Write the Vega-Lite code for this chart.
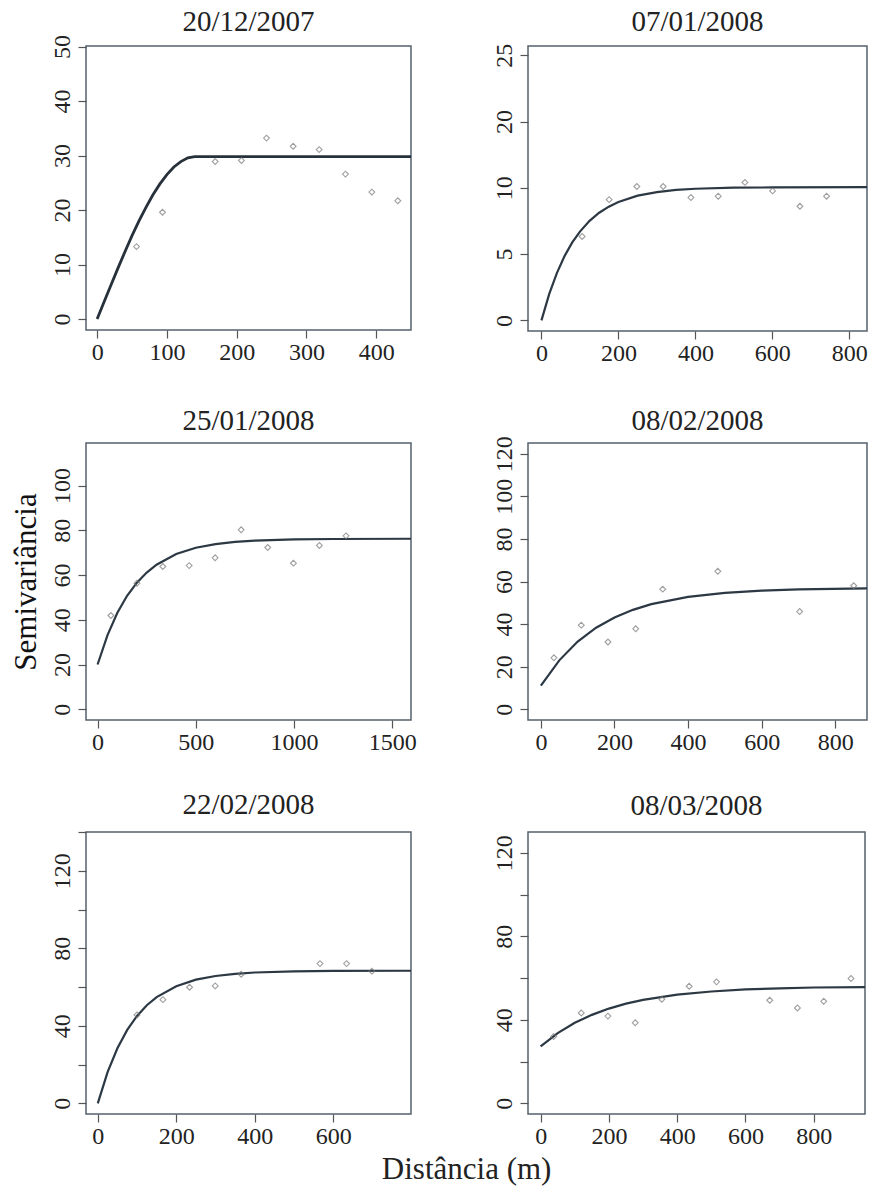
{
  "$schema": "https://vega.github.io/schema/vega-lite/v6.json",
  "background": "white",
  "padding": {"left": 9, "top": 7, "right": 4, "bottom": 2},
  "datasets": {
    "p1_pts": [{"d":56.4,"g":13.3},{"d":93.7,"g":19.6},{"d":169.2,"g":28.9},{"d":206.9,"g":29.1},{"d":242.8,"g":33.2},{"d":281.0,"g":31.7},{"d":318.3,"g":31.1},{"d":356.0,"g":26.6},{"d":393.8,"g":23.3},{"d":431.1,"g":21.7}],
    "p1_fit": [{"d":0,"g":0},{"d":10,"g":3.2},{"d":20,"g":6.3},{"d":30,"g":9.4},{"d":40,"g":12.4},{"d":50,"g":15.3},{"d":60,"g":18.0},{"d":70,"g":20.5},{"d":80,"g":22.8},{"d":90,"g":24.8},{"d":100,"g":26.5},{"d":110,"g":27.9},{"d":120,"g":28.9},{"d":130,"g":29.6},{"d":140,"g":29.8},{"d":450,"g":29.8}],
    "p2_pts": [{"d":105.7,"g":6.33},{"d":175.9,"g":9.11},{"d":247.9,"g":10.1},{"d":316.3,"g":10.1},{"d":388.3,"g":9.27},{"d":459.3,"g":9.37},{"d":528.7,"g":10.41},{"d":600.6,"g":9.77},{"d":671.7,"g":8.61},{"d":741.0,"g":9.37}],
    "p2_fit": [{"d":0,"g":0},{"d":20,"g":1.98},{"d":40,"g":3.57},{"d":60,"g":4.85},{"d":80,"g":5.88},{"d":100,"g":6.70},{"d":125,"g":7.51},{"d":150,"g":8.12},{"d":175,"g":8.58},{"d":200,"g":8.93},{"d":250,"g":9.41},{"d":300,"g":9.68},{"d":350,"g":9.84},{"d":400,"g":9.93},{"d":500,"g":10.01},{"d":600,"g":10.03},{"d":846,"g":10.05}],
    "p3_pts": [{"d":67.8,"g":41.9},{"d":200,"g":56.3},{"d":332,"g":63.8},{"d":466,"g":64.2},{"d":598,"g":67.7},{"d":730.5,"g":80.2},{"d":866,"g":72.3},{"d":996.6,"g":65.3},{"d":1128.8,"g":73.2},{"d":1264.4,"g":77.5}],
    "p3_fit": [{"d":0,"g":20},{"d":50,"g":33.0},{"d":100,"g":43.0},{"d":150,"g":50.7},{"d":200,"g":56.6},{"d":250,"g":61.1},{"d":300,"g":64.6},{"d":400,"g":69.4},{"d":500,"g":72.2},{"d":600,"g":73.8},{"d":700,"g":74.8},{"d":800,"g":75.4},{"d":1000,"g":75.9},{"d":1200,"g":76.1},{"d":1595,"g":76.2}],
    "p4_pts": [{"d":35.4,"g":24.2},{"d":109.8,"g":39.5},{"d":182.3,"g":31.6},{"d":257.6,"g":37.8},{"d":331.1,"g":56.4},{"d":480.7,"g":64.8},{"d":703,"g":45.9},{"d":850,"g":58.0}],
    "p4_fit": [{"d":0,"g":11.1},{"d":50,"g":23.0},{"d":100,"g":31.8},{"d":150,"g":38.3},{"d":200,"g":43.1},{"d":250,"g":46.7},{"d":300,"g":49.4},{"d":400,"g":52.8},{"d":500,"g":54.7},{"d":600,"g":55.7},{"d":700,"g":56.3},{"d":886,"g":56.8}],
    "p5_pts": [{"d":100,"g":45.6},{"d":166,"g":53.5},{"d":233.9,"g":59.9},{"d":299.2,"g":60.6},{"d":365.3,"g":66.6},{"d":566.1,"g":72.1},{"d":633.9,"g":72.1},{"d":698.3,"g":68.2}],
    "p5_fit": [{"d":0,"g":0},{"d":25,"g":16.1},{"d":50,"g":28.4},{"d":75,"g":37.9},{"d":100,"g":45.1},{"d":125,"g":50.6},{"d":150,"g":54.8},{"d":200,"g":60.4},{"d":250,"g":63.8},{"d":300,"g":65.7},{"d":350,"g":66.8},{"d":400,"g":67.5},{"d":500,"g":68.1},{"d":600,"g":68.3},{"d":798,"g":68.4}],
    "p6_pts": [{"d":38,"g":32.0},{"d":119,"g":43.3},{"d":197,"g":41.8},{"d":277,"g":38.6},{"d":355,"g":49.9},{"d":435,"g":56.1},{"d":515,"g":58.2},{"d":671,"g":49.4},{"d":752,"g":45.7},{"d":829,"g":48.9},{"d":909,"g":59.8}],
    "p6_fit": [{"d":0,"g":27.3},{"d":50,"g":33.65},{"d":100,"g":38.6},{"d":150,"g":42.4},{"d":200,"g":45.4},{"d":250,"g":47.8},{"d":300,"g":49.6},{"d":400,"g":52.1},{"d":500,"g":53.6},{"d":600,"g":54.6},{"d":700,"g":55.1},{"d":800,"g":55.5},{"d":950,"g":55.7}]
  },
  "title": {"text": "Distância (m)", "orient": "bottom", "fontSize": 31, "offset": 6, "anchor": "middle", "frame": "bounds", "dx": 28},
  "columns": 2,
  "spacing": {"row": 112, "column": 117},
  "bounds": "flush",
  "align": "each",
  "concat": [
    {
      "width": 325, "height": 284, "title": {"text": "20/12/2007", "offset": -2.5},
      "layer": [
        {"data": {"name": "p1_fit"}, "mark": {"type": "line", "color": "#27313b", "strokeWidth": 2.8, "clip": true},
         "encoding": {
           "x": {"field": "d", "type": "quantitative", "scale": {"domain": [-16, 450], "nice": false, "zero": false}, "axis": {"values": [0, 100, 200, 300, 400], "title": null}},
           "y": {"field": "g", "type": "quantitative", "scale": {"domain": [-2, 50.1], "nice": false, "zero": false}, "axis": {"values": [0, 10, 20, 30, 40, 50], "title": null}}}},
        {"data": {"name": "p1_pts"}, "mark": {"type": "point", "shape": "diamond", "size": 34, "filled": false, "color": "#777777", "strokeWidth": 1.1},
         "encoding": {"x": {"field": "d", "type": "quantitative"}, "y": {"field": "g", "type": "quantitative"}}}
      ]
    },
    {
      "width": 339, "height": 285, "title": {"text": "07/01/2008", "offset": 6},
      "layer": [
        {"data": {"name": "p2_fit"}, "mark": {"type": "line", "color": "#2c3844", "strokeWidth": 2.2, "clip": true},
         "encoding": {
           "x": {"field": "d", "type": "quantitative", "scale": {"domain": [-35, 846], "nice": false, "zero": false}, "axis": {"values": [0, 200, 400, 600, 800], "title": null}},
           "y": {"field": "g", "type": "quantitative", "scale": {"domain": [-0.8, 20.7], "nice": false, "zero": false}, "axis": {"values": [0, 5, 10, 15, 20], "title": null, "labelExpr": "datum.value == 15 ? '20' : datum.value == 20 ? '25' : datum.label"}}}},
        {"data": {"name": "p2_pts"}, "mark": {"type": "point", "shape": "diamond", "size": 34, "filled": false, "color": "#777777", "strokeWidth": 1.1},
         "encoding": {"x": {"field": "d", "type": "quantitative"}, "y": {"field": "g", "type": "quantitative"}}}
      ]
    },
    {
      "width": 325, "height": 277, "title": {"text": "25/01/2008", "offset": 7},
      "layer": [
        {"data": {"name": "p3_fit"}, "mark": {"type": "line", "color": "#2c3844", "strokeWidth": 2.2, "clip": true},
         "encoding": {
           "x": {"field": "d", "type": "quantitative", "scale": {"domain": [-59, 1595], "nice": false, "zero": false}, "axis": {"values": [0, 500, 1000, 1500], "format": "d", "title": null}},
           "y": {"field": "g", "type": "quantitative", "scale": {"domain": [-4.8, 119], "nice": false, "zero": false}, "axis": {"values": [0, 20, 40, 60, 80, 100], "title": "Semivariância", "titleFontSize": 31, "titleFontWeight": "normal", "titleColor": "#111111", "titlePadding": 8}}}},
        {"data": {"name": "p3_pts"}, "mark": {"type": "point", "shape": "diamond", "size": 34, "filled": false, "color": "#777777", "strokeWidth": 1.1},
         "encoding": {"x": {"field": "d", "type": "quantitative"}, "y": {"field": "g", "type": "quantitative"}}}
      ]
    },
    {
      "width": 339, "height": 277, "title": {"text": "08/02/2008", "offset": 0},
      "layer": [
        {"data": {"name": "p4_fit"}, "mark": {"type": "line", "color": "#2c3844", "strokeWidth": 2.2, "clip": true},
         "encoding": {
           "x": {"field": "d", "type": "quantitative", "scale": {"domain": [-35, 886], "nice": false, "zero": false}, "axis": {"values": [0, 200, 400, 600, 800], "title": null}},
           "y": {"field": "g", "type": "quantitative", "scale": {"domain": [-5, 125], "nice": false, "zero": false}, "axis": {"values": [0, 20, 40, 60, 80, 100, 120], "title": null}}}},
        {"data": {"name": "p4_pts"}, "mark": {"type": "point", "shape": "diamond", "size": 34, "filled": false, "color": "#777777", "strokeWidth": 1.1},
         "encoding": {"x": {"field": "d", "type": "quantitative"}, "y": {"field": "g", "type": "quantitative"}}}
      ]
    },
    {
      "width": 325, "height": 282, "title": {"text": "22/02/2008", "offset": 11},
      "layer": [
        {"data": {"name": "p5_fit"}, "mark": {"type": "line", "color": "#2c3844", "strokeWidth": 2.2, "clip": true},
         "encoding": {
           "x": {"field": "d", "type": "quantitative", "scale": {"domain": [-30, 798], "nice": false, "zero": false}, "axis": {"values": [0, 200, 400, 600], "title": null}},
           "y": {"field": "g", "type": "quantitative", "scale": {"domain": [-5.5, 140], "nice": false, "zero": false}, "axis": {"values": [0, 20, 40, 60, 80, 100, 120, 140], "title": null, "labelExpr": "datum.value % 40 == 0 ? datum.label : ''"}}}},
        {"data": {"name": "p5_pts"}, "mark": {"type": "point", "shape": "diamond", "size": 34, "filled": false, "color": "#777777", "strokeWidth": 1.1},
         "encoding": {"x": {"field": "d", "type": "quantitative"}, "y": {"field": "g", "type": "quantitative"}}}
      ]
    },
    {
      "width": 337, "height": 282, "title": {"text": "08/03/2008", "offset": 11},
      "layer": [
        {"data": {"name": "p6_fit"}, "mark": {"type": "line", "color": "#2c3844", "strokeWidth": 2.2, "clip": true},
         "encoding": {
           "x": {"field": "d", "type": "quantitative", "scale": {"domain": [-37, 950], "nice": false, "zero": false}, "axis": {"values": [0, 200, 400, 600, 800], "title": null}},
           "y": {"field": "g", "type": "quantitative", "scale": {"domain": [-5.1, 130], "nice": false, "zero": false}, "axis": {"values": [0, 20, 40, 60, 80, 100, 120], "title": null, "labelExpr": "datum.value % 40 == 0 ? datum.label : ''"}}}},
        {"data": {"name": "p6_pts"}, "mark": {"type": "point", "shape": "diamond", "size": 34, "filled": false, "color": "#777777", "strokeWidth": 1.1},
         "encoding": {"x": {"field": "d", "type": "quantitative"}, "y": {"field": "g", "type": "quantitative"}}}
      ]
    }
  ],
  "config": {
    "font": "Liberation Serif",
    "view": {"stroke": "#56616c", "strokeWidth": 1.5},
    "axis": {"domain": false, "grid": false, "ticks": true, "tickColor": "#555555", "tickSize": 8, "tickWidth": 1.2,
             "labelFont": "Liberation Serif", "labelFontSize": 24, "labelColor": "#222222",
             "labelOverlap": false, "labelFlush": false, "labelBound": false, "titleFont": "Liberation Serif"},
    "axisY": {"labelAngle": -90, "labelAlign": "center", "labelBaseline": "bottom", "labelPadding": 4},
    "axisX": {"labelPadding": 2},
    "title": {"font": "Liberation Serif", "fontSize": 29, "fontWeight": "normal", "color": "#222222", "anchor": "middle", "frame": "group"}
  }
}
